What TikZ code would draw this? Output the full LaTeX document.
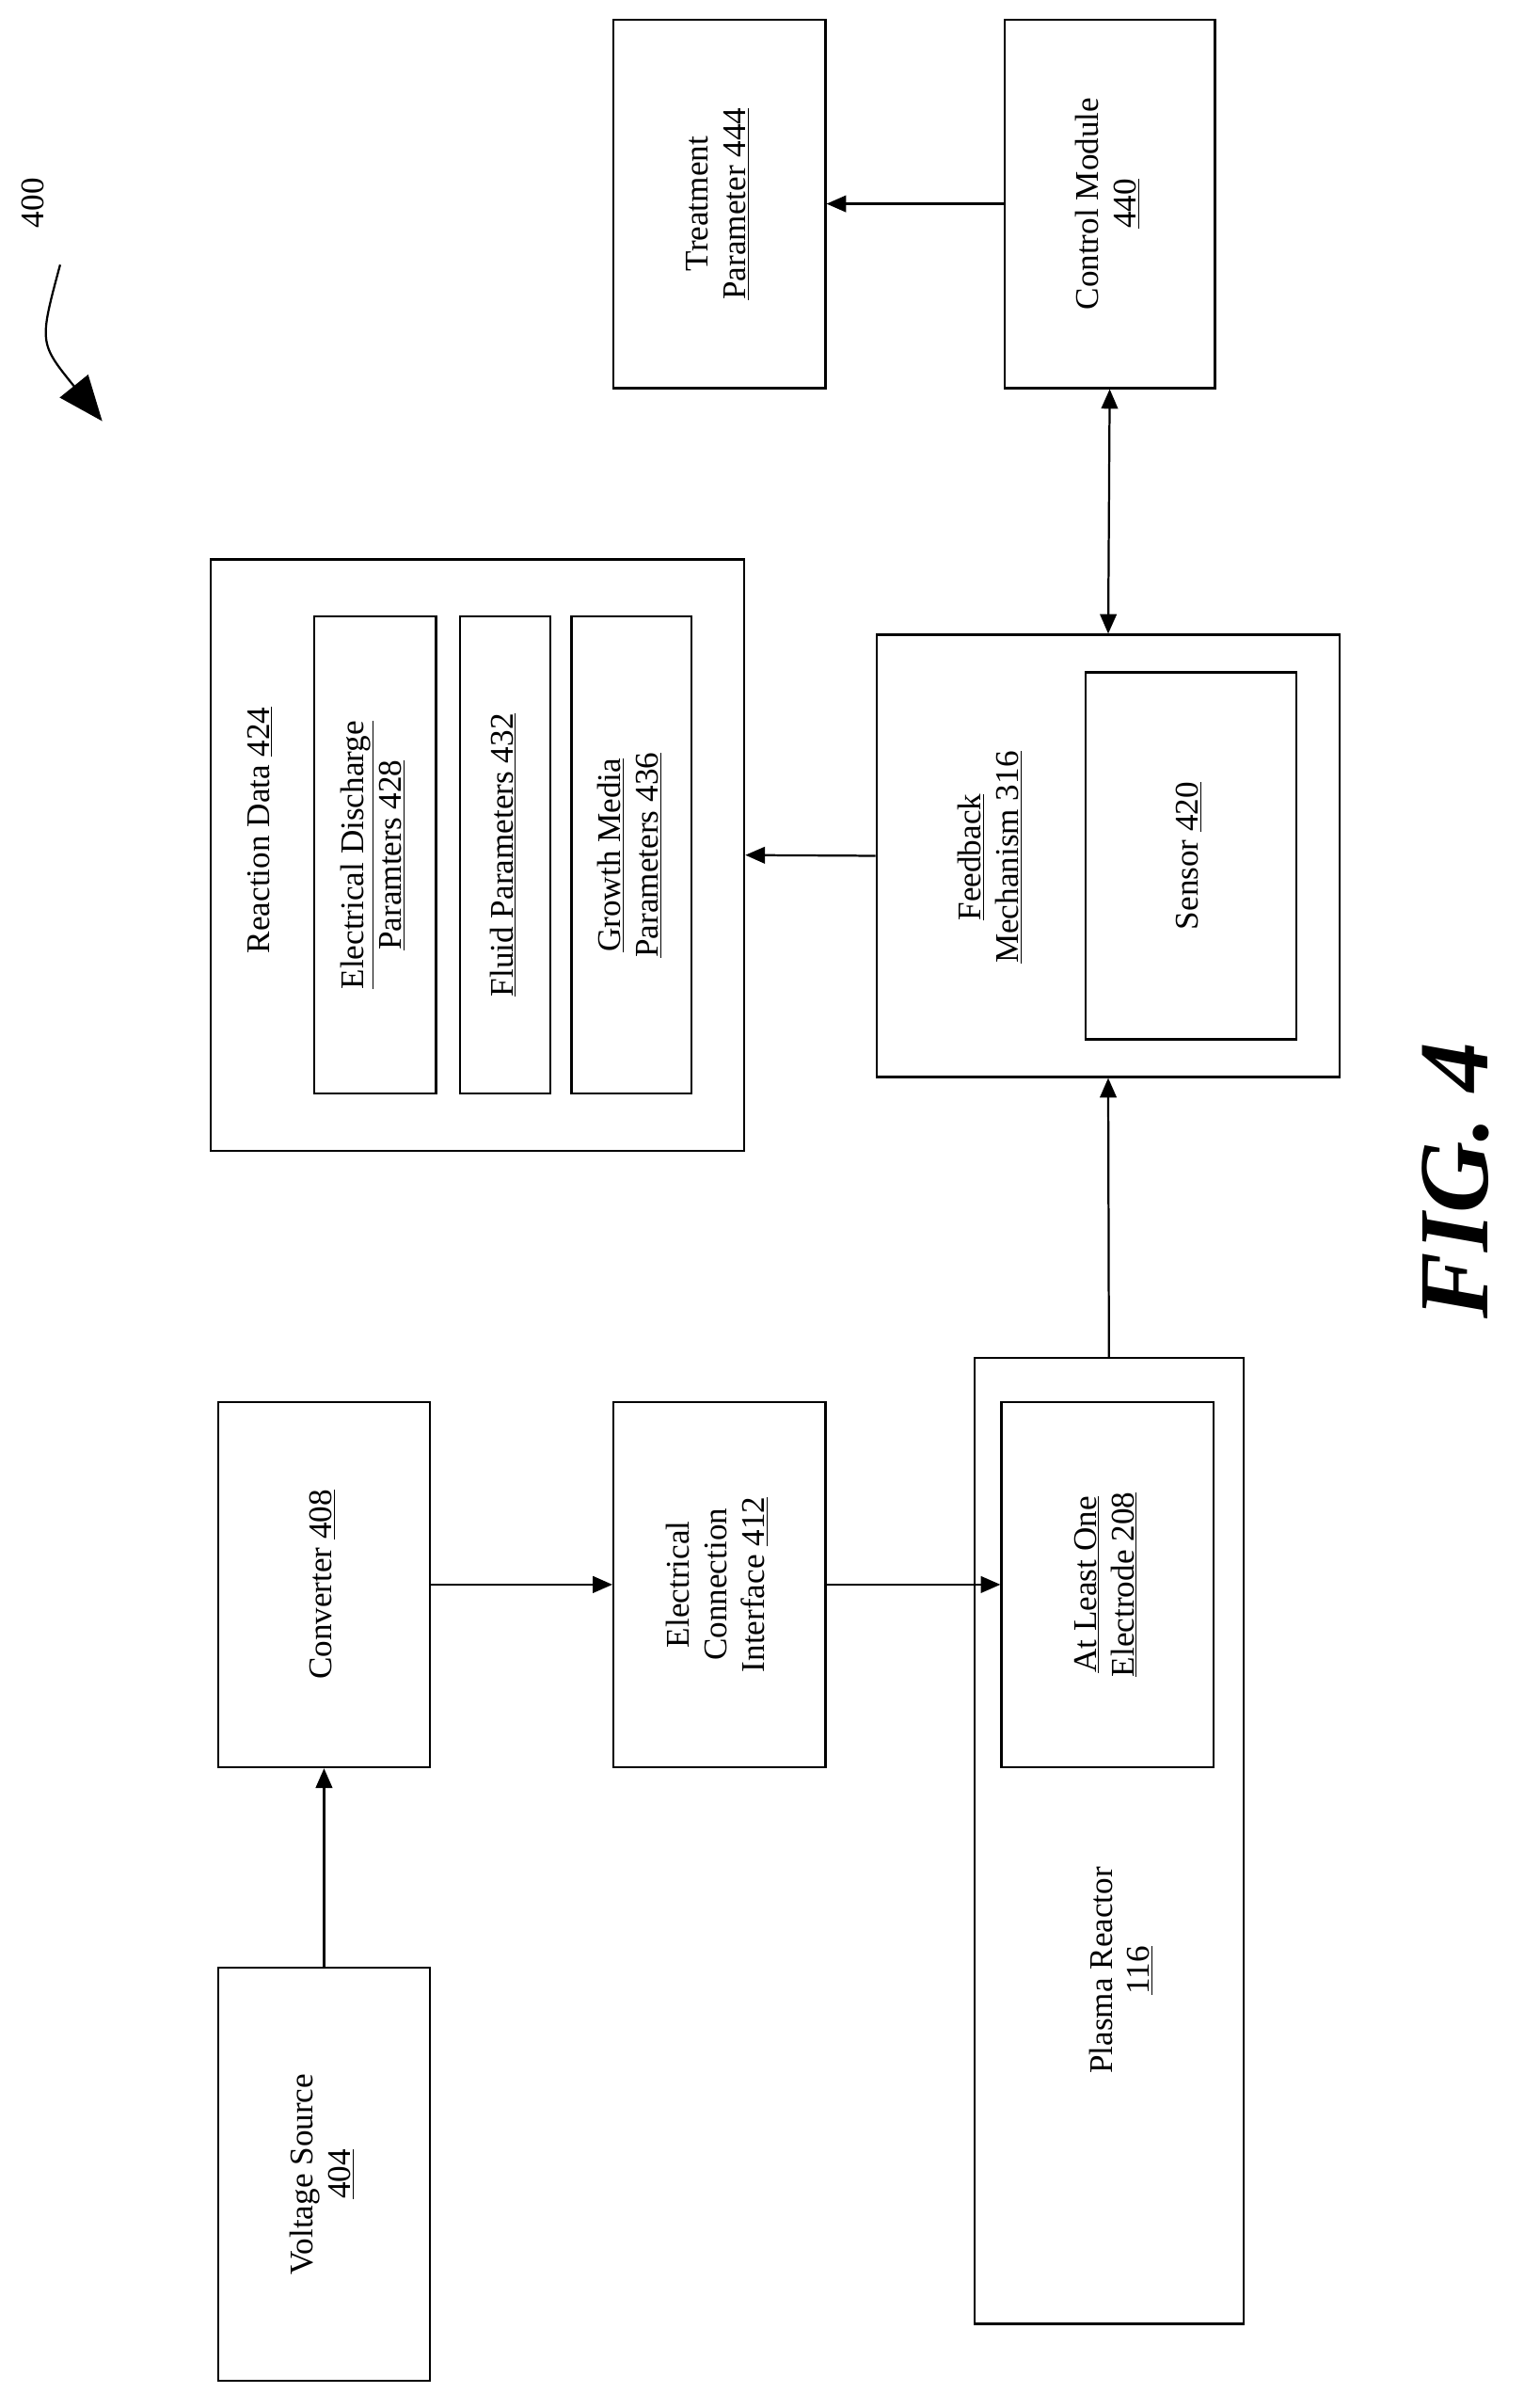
\documentclass[tikz,border=0pt]{standalone}
\usepackage{fontspec}
\setmainfont{Liberation Serif}
\usetikzlibrary{arrows.meta}
\newcommand{\rtext}[1]{\rotatebox{90}{\begin{tabular}{@{}c@{}}#1\end{tabular}}}
\begin{document}
\begin{tikzpicture}[x=1pt,y=-1pt, line width=1.4pt,
  box/.style={draw,rectangle,inner sep=0pt,font=\fontsize{22}{25}\selectfont},
  lbl/.style={inner sep=0pt,font=\fontsize{22}{25}\selectfont},
  arr/.style={-{Triangle[length=13pt,width=11pt]}}]
\useasboundingbox (0,0) rectangle (1024,1591);
% left column
\node[box,minimum width=141,minimum height=275] (volt) at (215.5,1445.5) {\rtext{Voltage Source\\\underline{404}}};
\node[box,minimum width=141,minimum height=243] (conv) at (215.5,1053.5) {\rtext{Converter \underline{408}}};
\node[box,minimum width=141,minimum height=243] (eci) at (478.5,1053.5) {\rtext{Electrical\\Connection\\Interface \underline{412}}};
\node[box,minimum width=179,minimum height=642] (plasma) at (737.5,1224) {};
\node[lbl,rotate=90] (plasmalbl) at (747,1310) {\begin{tabular}{@{}c@{}}Plasma Reactor\\\underline{116}\end{tabular}};
\node[box,minimum width=141,minimum height=243] (elec) at (736.5,1053.5) {\rtext{\underline{At Least One}\\\underline{Electrode 208}}};
% feedback
\node[box,minimum width=308,minimum height=294] (fb) at (737,569) {};
\node[lbl,rotate=90] (fblbl) at (660,570) {\begin{tabular}{@{}c@{}}\underline{Feedback}\\\underline{Mechanism 316}\end{tabular}};
\node[box,minimum width=140,minimum height=244] (sensor) at (792,569) {\rtext{Sensor \underline{420}}};
% reaction data
\node[box,minimum width=355,minimum height=393] (rd) at (317.5,568.5) {};
\node[lbl,rotate=90] (rdlbl) at (173,552) {Reaction Data \underline{424}};
\node[box,minimum width=81,minimum height=317] (edp) at (249.5,568.5) {\rtext{\underline{Electrical Discharge}\\\underline{Paramters 428}}};
\node[box,minimum width=60,minimum height=317] (fluid) at (336,568.5) {\rtext{\underline{Fluid Parameters 432}}};
\node[box,minimum width=80,minimum height=317] (growth) at (420,568.5) {\rtext{\underline{Growth Media}\\\underline{Parameters 436}}};
% top
\node[box,minimum width=141,minimum height=245] (treat) at (478.5,135.5) {\rtext{Treatment\\\underline{Parameter 444}}};
\node[box,minimum width=140,minimum height=245] (ctrl) at (738,135.5) {\rtext{Control Module\\\underline{440}}};
% connectors
\draw[arr] (volt.north) -- (conv.south);
\draw[arr] (conv.east) -- (eci.west);
\draw[arr] (eci.east) -- (elec.west);
\draw[arr] (plasma.north) -- (fb.south);
\draw[arr] (fb.west) -- (rd.east);
\draw[{Triangle[length=13pt,width=11pt]}-{Triangle[length=13pt,width=11pt]}] (fb.north) -- (ctrl.south);
\draw[arr] (ctrl.west) -- (treat.east);
% figure label
\node[lbl,rotate=90] (n400) at (22,135) {400};
\coordinate (s400) at (40,176);
\coordinate (t400) at (68,280);
\draw[-{Triangle[length=30pt,width=24pt]}] (s400) .. controls (26,228) .. (t400);
\node[rotate=90,inner sep=0pt,font=\bfseries\itshape\fontsize{66}{66}\selectfont] (fig) at (968,785) {FIG. 4};
\end{tikzpicture}
\end{document}
